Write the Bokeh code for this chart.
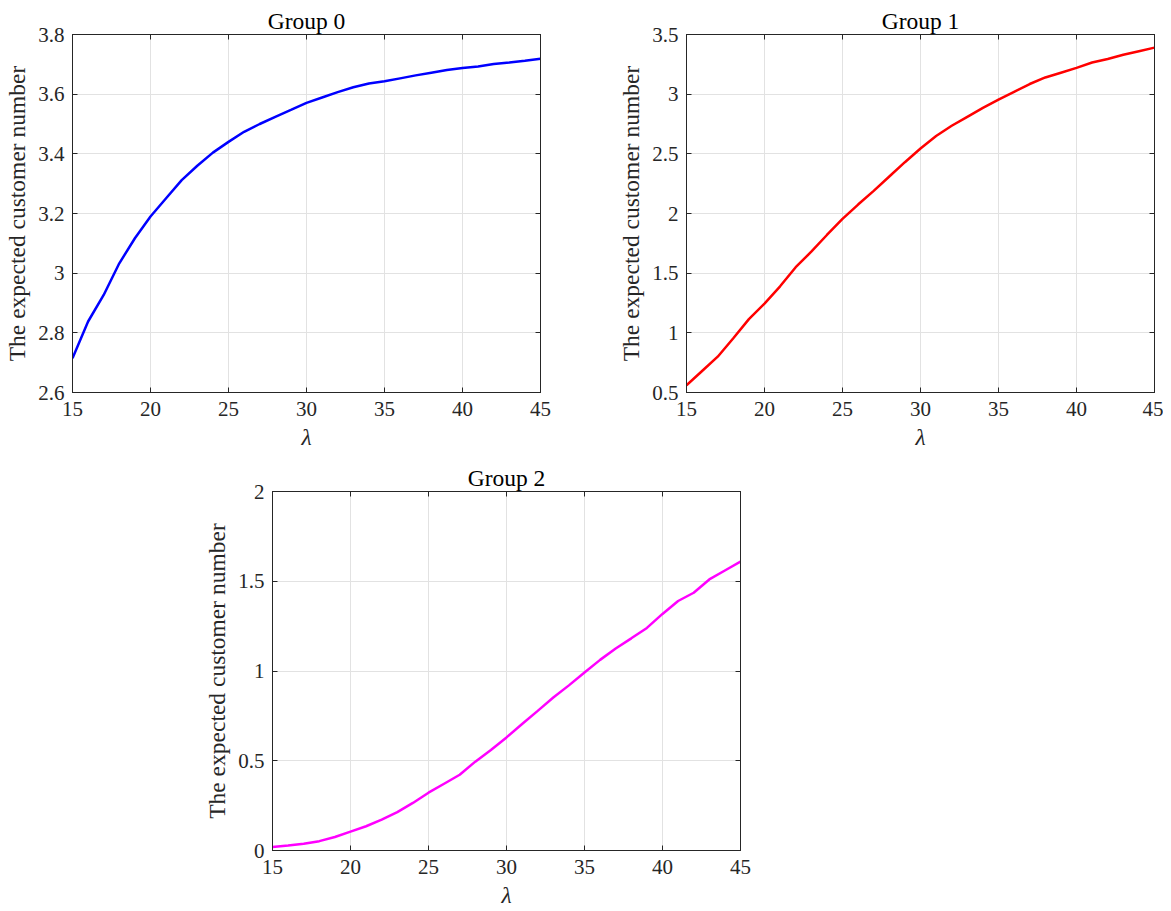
from bokeh.plotting import figure
from bokeh.models import Range1d, FixedTicker, LinearAxis
from bokeh.layouts import column, row
from bokeh.embed import file_html
from bokeh.resources import INLINE

# ---------------- data ----------------
lam = list(range(15, 46))

group0 = [2.715, 2.838, 2.927, 3.033, 3.117, 3.190, 3.251, 3.312, 3.360, 3.404,
          3.440, 3.474, 3.500, 3.524, 3.547, 3.571, 3.589, 3.607, 3.623, 3.636,
          3.643, 3.653, 3.663, 3.672, 3.681, 3.688, 3.693, 3.701, 3.706, 3.712, 3.719]

group1 = [0.560, 0.680, 0.800, 0.955, 1.115, 1.245, 1.390, 1.550, 1.680, 1.820,
          1.955, 2.075, 2.190, 2.310, 2.430, 2.545, 2.650, 2.735, 2.810, 2.885,
          2.955, 3.020, 3.085, 3.140, 3.180, 3.220, 3.265, 3.295, 3.330, 3.360, 3.390]

group2 = [0.020, 0.028, 0.038, 0.052, 0.075, 0.105, 0.135, 0.172, 0.214, 0.265,
          0.322, 0.372, 0.422, 0.495, 0.560, 0.630, 0.705, 0.778, 0.852, 0.920,
          0.992, 1.062, 1.125, 1.182, 1.240, 1.318, 1.390, 1.436, 1.510, 1.560, 1.610]

titles = ["Group 0", "Group 1", "Group 2"]
colors = ["#0000ff", "#ff0000", "#ff00ff"]

x_ticks = [15, 20, 25, 30, 35, 40, 45]
x_tick_labels = ["15", "20", "25", "30", "35", "40", "45"]

g0_ticks = [2.6, 2.8, 3.0, 3.2, 3.4, 3.6, 3.8]
g0_tick_labels = ["2.6", "2.8", "3", "3.2", "3.4", "3.6", "3.8"]
g1_ticks = [0.5, 1.0, 1.5, 2.0, 2.5, 3.0, 3.5]
g1_tick_labels = ["0.5", "1", "1.5", "2", "2.5", "3", "3.5"]
g2_ticks = [0.0, 0.5, 1.0, 1.5, 2.0]
g2_tick_labels = ["0", "0.5", "1", "1.5", "2"]

y_ranges = [(2.6, 3.8), (0.5, 3.5), (0.0, 2.0)]
y_label = "The expected customer number"
x_label = "\u03bb"

FONT = "Liberation Serif"
TXT = "#262626"
GRID = "#e2e2e2"


def style_axis(ax, ticks, labels, show_labels=True):
    ax.ticker = FixedTicker(ticks=ticks)
    if show_labels:
        ax.major_label_overrides = {float(t): l for t, l in zip(ticks, labels)}
    else:
        ax.major_label_overrides = {float(t): "" for t in ticks}
    ax.major_tick_in = 5
    ax.major_tick_out = 0
    ax.minor_tick_line_color = None
    ax.major_tick_line_color = TXT
    ax.axis_line_color = TXT
    ax.major_label_text_font = FONT
    ax.major_label_text_font_size = "21px"
    ax.major_label_text_color = TXT
    ax.major_label_standoff = 8
    ax.axis_label_text_font = FONT
    ax.axis_label_text_font_size = "23.5px"
    ax.axis_label_text_color = TXT
    ax.axis_label_text_font_style = "normal"
    ax.axis_label_standoff = 5


def make(i, y, yticks, ylabels, w, h, mbl, mbr, mbt, mbb):
    p = figure(width=w, height=h, x_range=Range1d(15, 45),
               y_range=Range1d(*y_ranges[i]), output_backend="svg",
               toolbar_location=None, title=titles[i],
               min_border_left=mbl, min_border_right=mbr,
               min_border_top=mbt, min_border_bottom=mbb)
    p.title.text_font = FONT
    p.title.text_font_size = "23.5px"
    p.title.text_font_style = "normal"
    p.title.text_color = "#000000"
    p.title.align = "center"
    p.title.standoff = 1
    p.title.offset = 0

    style_axis(p.xaxis[0], x_ticks, x_tick_labels)
    p.xaxis[0].axis_label = x_label
    p.xaxis[0].axis_label_text_font_style = "italic"
    p.xaxis[0].major_label_standoff = 9
    p.xaxis[0].axis_label_standoff = 5
    style_axis(p.yaxis[0], yticks, ylabels)
    p.yaxis[0].axis_label = y_label

    top = LinearAxis()
    style_axis(top, x_ticks, x_tick_labels, show_labels=False)
    top.major_label_standoff = 0
    p.add_layout(top, "above")
    right = LinearAxis()
    style_axis(right, yticks, ylabels, show_labels=False)
    right.major_label_standoff = 0
    p.add_layout(right, "right")

    p.xgrid.ticker = FixedTicker(ticks=x_ticks)
    p.ygrid.ticker = FixedTicker(ticks=yticks)
    p.grid.grid_line_color = GRID
    p.grid.grid_line_width = 1

    p.outline_line_color = TXT
    p.outline_line_width = 1
    p.background_fill_color = "white"
    p.border_fill_color = "white"

    p.line(lam, y, line_color=colors[i], line_width=2.5)
    return p


p0 = make(0, group0, g0_ticks, g0_tick_labels, 600, 452, 72, 60, 34, 59)
p1 = make(1, group1, g1_ticks, g1_tick_labels, 563, 452, 86, 9, 34, 59)
p2 = make(2, group2, g2_ticks, g2_tick_labels, 800, 459, 272, 60, 39, 61)

layout = column(row(p0, p1, spacing=0), p2, spacing=0)

open("out.html", "w").write(file_html(layout, INLINE))
